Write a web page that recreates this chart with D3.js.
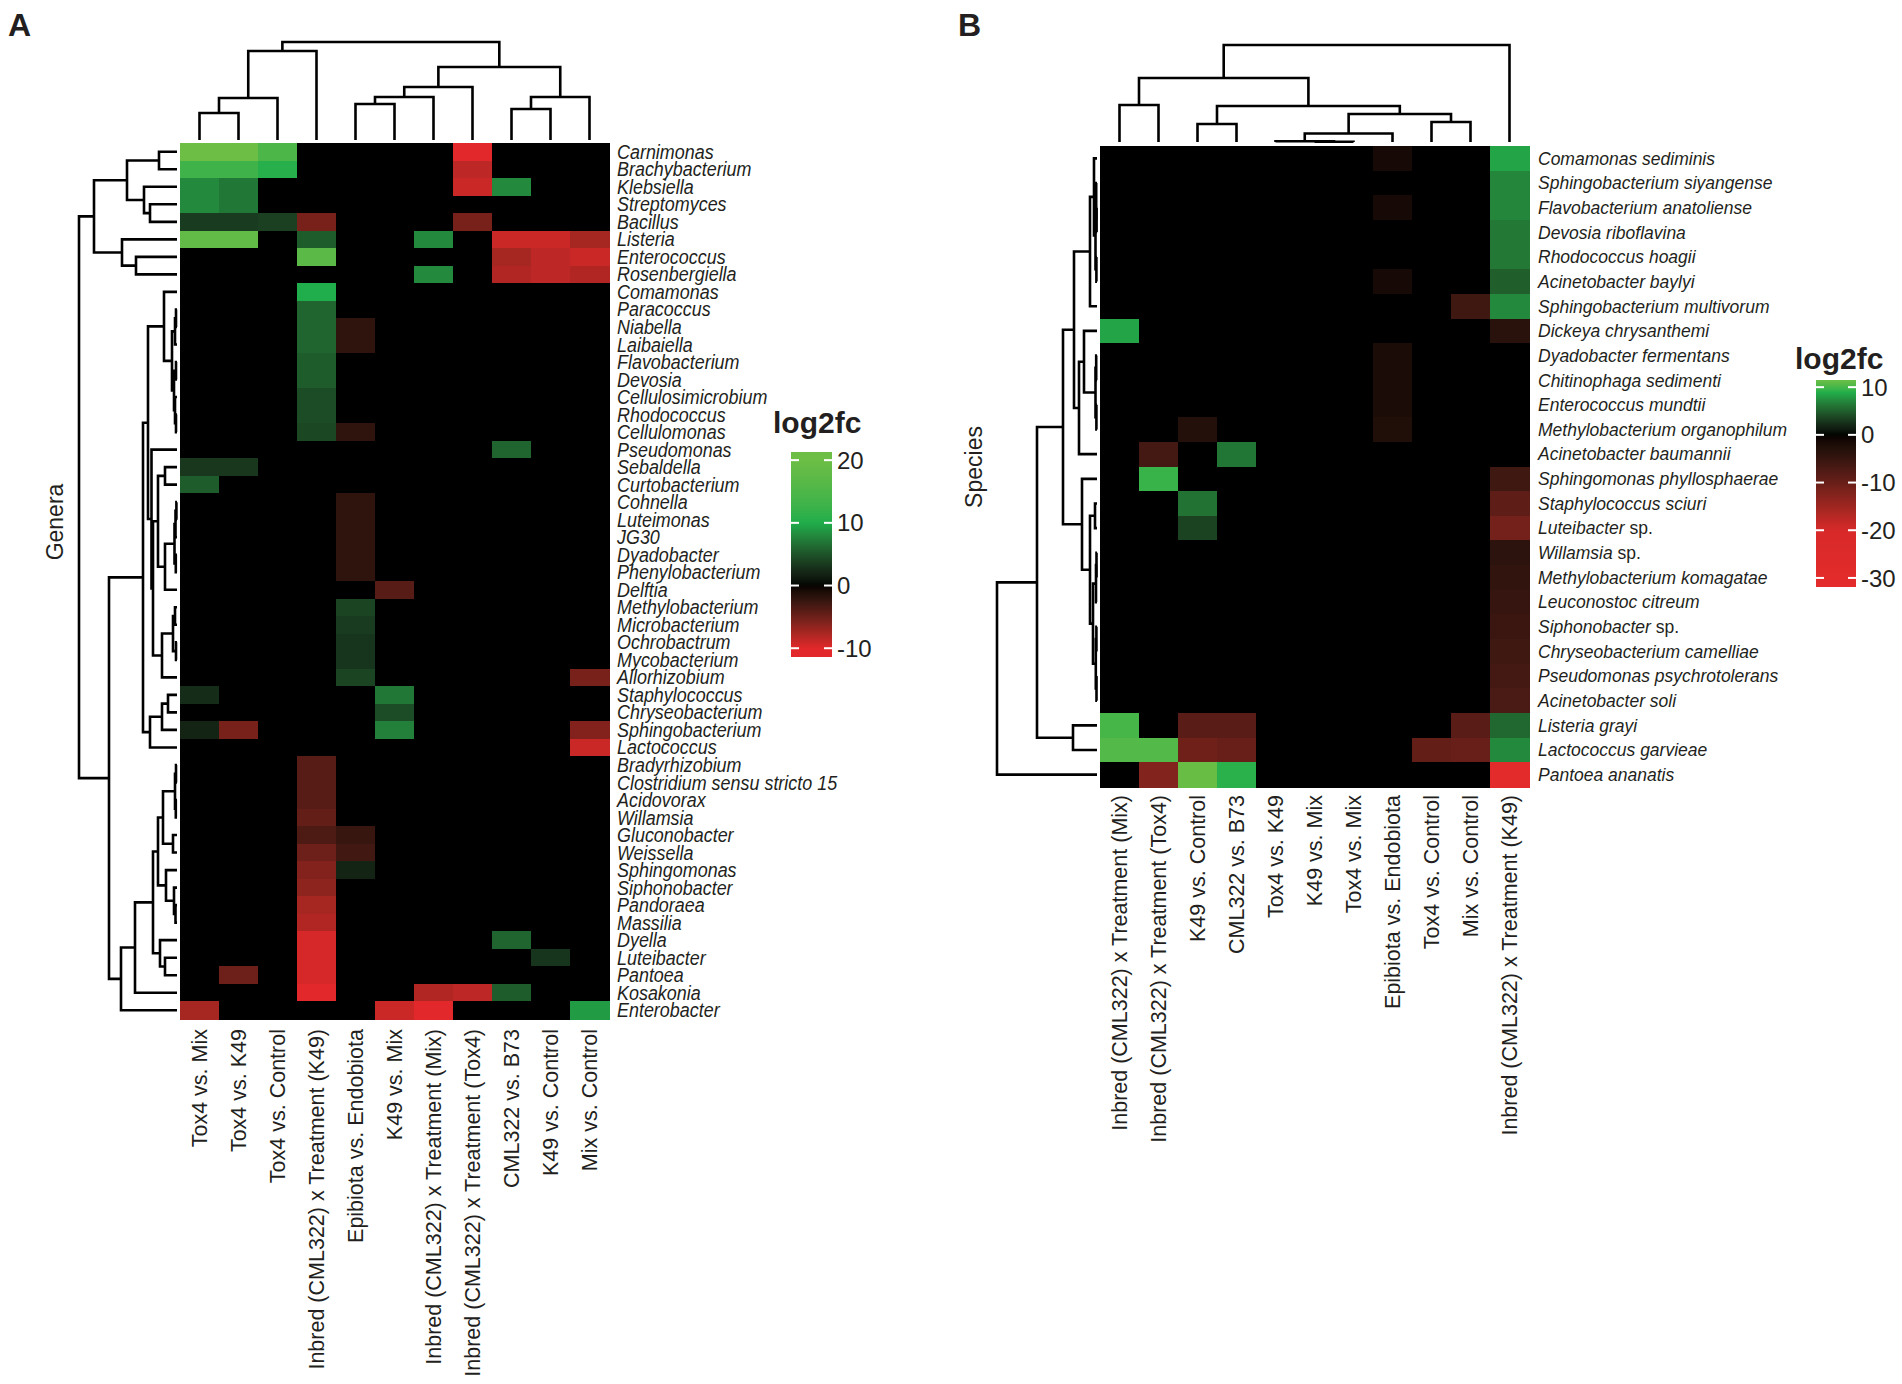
<!DOCTYPE html>
<html><head><meta charset="utf-8">
<script src="https://cdn.jsdelivr.net/npm/d3@7"></script>
<style>
body{margin:0;background:#fff}
svg{display:block}
text{font-family:"Liberation Sans",Arial,Helvetica,sans-serif;fill:#231f20}
</style>
</head><body>
<svg id="chart" width="1902" height="1384"></svg>
<script>
// ---------------- DATA ----------------
const comparisonsA = ["Tox4 vs. Mix","Tox4 vs. K49","Tox4 vs. Control","Inbred (CML322) x Treatment (K49)","Epibiota vs. Endobiota","K49 vs. Mix","Inbred (CML322) x Treatment (Mix)","Inbred (CML322) x Treatment (Tox4)","CML322 vs. B73","K49 vs. Control","Mix vs. Control"];
const genera = ["Carnimonas","Brachybacterium","Klebsiella","Streptomyces","Bacillus","Listeria","Enterococcus","Rosenbergiella","Comamonas","Paracoccus","Niabella","Laibaiella","Flavobacterium","Devosia","Cellulosimicrobium","Rhodococcus","Cellulomonas","Pseudomonas","Sebaldella","Curtobacterium","Cohnella","Luteimonas","JG30","Dyadobacter","Phenylobacterium","Delftia","Methylobacterium","Microbacterium","Ochrobactrum","Mycobacterium","Allorhizobium","Staphylococcus","Chryseobacterium","Sphingobacterium","Lactococcus","Bradyrhizobium","Clostridium sensu stricto 15","Acidovorax","Willamsia","Gluconobacter","Weissella","Sphingomonas","Siphonobacter","Pandoraea","Massilia","Dyella","Luteibacter","Pantoea","Kosakonia","Enterobacter"];
const log2fcGenera = [
[20,20,15,0,0,0,0,-10,0,0,0],
[13,13,10.5,0,0,0,0,-8.5,0,0,0],
[8,7,0,0,0,0,0,-9,8,0,0],
[8,7,0,0,0,0,0,0,0,0,0],
[3.5,3.5,3.8,-5.5,0,0,0,-5.5,0,0,0],
[18,18,0,5.5,0,0,8,0,-9,-9,-7.5],
[0,0,0,17,0,0,0,0,-7.5,-8.5,-9],
[0,0,0,0,0,0,8,0,-8,-8.5,-8],
[0,0,0,10,0,0,0,0,0,0,0],
[0,0,0,6,0,0,0,0,0,0,0],
[0,0,0,6,-2,0,0,0,0,0,0],
[0,0,0,6,-2,0,0,0,0,0,0],
[0,0,0,5.5,0,0,0,0,0,0,0],
[0,0,0,5.5,0,0,0,0,0,0,0],
[0,0,0,4.5,0,0,0,0,0,0,0],
[0,0,0,4.5,0,0,0,0,0,0,0],
[0,0,0,4.2,-2,0,0,0,0,0,0],
[0,0,0,0,0,0,0,0,6,0,0],
[3.2,3.2,0,0,0,0,0,0,0,0,0],
[5.5,0,0,0,0,0,0,0,0,0,0],
[0,0,0,0,-2,0,0,0,0,0,0],
[0,0,0,0,-2,0,0,0,0,0,0],
[0,0,0,0,-2,0,0,0,0,0,0],
[0,0,0,0,-2,0,0,0,0,0,0],
[0,0,0,0,-2,0,0,0,0,0,0],
[0,0,0,0,0,-4,0,0,0,0,0],
[0,0,0,0,4,0,0,0,0,0,0],
[0,0,0,0,3.5,0,0,0,0,0,0],
[0,0,0,0,3,0,0,0,0,0,0],
[0,0,0,0,3,0,0,0,0,0,0],
[0,0,0,0,4,0,0,0,0,0,-5.5],
[2.5,0,0,0,0,7,0,0,0,0,0],
[0,0,0,0,0,4.5,0,0,0,0,0],
[2,-5.5,0,0,0,7.5,0,0,0,0,-6],
[0,0,0,0,0,0,0,0,0,0,-9],
[0,0,0,-4,0,0,0,0,0,0,0],
[0,0,0,-4,0,0,0,0,0,0,0],
[0,0,0,-4,0,0,0,0,0,0,0],
[0,0,0,-4.5,0,0,0,0,0,0,0],
[0,0,0,-3.5,-2.5,0,0,0,0,0,0],
[0,0,0,-5,-3,0,0,0,0,0,0],
[0,0,0,-6,2,0,0,0,0,0,0],
[0,0,0,-6.5,0,0,0,0,0,0,0],
[0,0,0,-7.5,0,0,0,0,0,0,0],
[0,0,0,-8,0,0,0,0,0,0,0],
[0,0,0,-9.5,0,0,0,0,6,0,0],
[0,0,0,-9.5,0,0,0,0,0,3,0],
[0,-5,0,-9.5,0,0,0,0,0,0,0],
[0,0,0,-10.5,0,0,-8,-8.5,5.5,0,0],
[-7.5,0,0,0,0,-9,-10.5,0,0,0,9]
];
// dendrograms: [height, left, right]; leaves are indices
const treeComparisonsA = [98,[89,[42,[27,0,1],2],3],[73,[53,[43,[36,4,5],6],7],[43,[31,8,9],10]]];
const treeGenera = [98,
  [83,[50,[18,0,1],[33,2,[27,3,4]]],[55,5,[41,6,7]]],
  [68,
    [34,
      [29,
        [13,8,[5,[2,[1,9,10],11],[3,[1,12,13],[2,14,[1,15,16]]]]],
        [25.5,17,[24,[19,[12,18,19],[12,[2.5,[1.5,[0.6,20,21],22],[1.2,23,24]],25]],[15,[4,[2,26,27],[1,28,29]],30]]]],
      [27,[15,[9,31,32],33],34]],
    [56,[42,[24,[19,[14,[2,[1,35,36],[1.2,37,38]],[4,39,40]],[11,41,[3,42,[1.5,43,44]]]],[17,45,[12,46,47]]],48],49]]];

const comparisonsB = ["Inbred (CML322) x Treatment (Mix)","Inbred (CML322) x Treatment (Tox4)","K49 vs. Control","CML322 vs. B73","Tox4 vs. K49","K49 vs. Mix","Tox4 vs. Mix","Epibiota vs. Endobiota","Tox4 vs. Control","Mix vs. Control","Inbred (CML322) x Treatment (K49)"];
const species = ["Comamonas sediminis","Sphingobacterium siyangense","Flavobacterium anatoliense","Devosia riboflavina","Rhodococcus hoagii","Acinetobacter baylyi","Sphingobacterium multivorum","Dickeya chrysanthemi","Dyadobacter fermentans","Chitinophaga sedimenti","Enterococcus mundtii","Methylobacterium organophilum","Acinetobacter baumannii","Sphingomonas phyllosphaerae","Staphylococcus sciuri","Luteibacter sp.","Willamsia sp.","Methylobacterium komagatae","Leuconostoc citreum","Siphonobacter sp.","Chryseobacterium camelliae","Pseudomonas psychrotolerans","Acinetobacter soli","Listeria grayi","Lactococcus garvieae","Pantoea ananatis"];
const log2fcSpecies = [
[0,0,0,0,0,0,0,-1.5,0,0,8.5],
[0,0,0,0,0,0,0,0,0,0,7],
[0,0,0,0,0,0,0,-1.5,0,0,7],
[0,0,0,0,0,0,0,0,0,0,6.3],
[0,0,0,0,0,0,0,0,0,0,6.3],
[0,0,0,0,0,0,0,-1.5,0,0,5],
[0,0,0,0,0,0,0,0,0,-6,7.2],
[8.5,0,0,0,0,0,0,0,0,0,-3.5],
[0,0,0,0,0,0,0,-2,0,0,0],
[0,0,0,0,0,0,0,-2,0,0,0],
[0,0,0,0,0,0,0,-2,0,0,0],
[0,0,-3,0,0,0,0,-2.5,0,0,0],
[0,-6.5,0,6.2,0,0,0,0,0,0,0],
[0,9.5,0,0,0,0,0,0,0,0,-6],
[0,0,6,0,0,0,0,0,0,0,-9],
[0,0,3.5,0,0,0,0,0,0,0,-11],
[0,0,0,0,0,0,0,0,0,0,-4],
[0,0,0,0,0,0,0,0,0,0,-4.5],
[0,0,0,0,0,0,0,0,0,0,-5],
[0,0,0,0,0,0,0,0,0,0,-5.5],
[0,0,0,0,0,0,0,0,0,0,-6],
[0,0,0,0,0,0,0,0,0,0,-6.5],
[0,0,0,0,0,0,0,0,0,0,-7],
[10,0,-8.5,-8.5,0,0,0,0,0,-8.5,5.5],
[10.5,10.5,-10.5,-10,0,0,0,0,-9.5,-10,7.2],
[0,-12.5,11.4,9.2,0,0,0,0,0,0,-30]
];
const treeComparisonsB = [97,[64,[37,0,1],[36,[18,2,3],[28,[8.5,[0.8,4,[0.3,5,6]],7],[20,8,9]]]],10];
const treeSpecies = [100,
  [60,
    [34,
      [23,[7,[3,0,[1.5,[0.8,1,[0.4,2,3]],[0.6,4,5]]],6],[18,[13,7,[1.5,[0.8,8,9],[0.6,10,11]]],12]],
      [15,13,[7,[2,14,15],[4,[1,[0.5,16,17],18],[1.2,[0.6,19,20],[0.5,21,22]]]]]],
    [24,23,24]],
  25];

const legendTicksA = [-10,0,10,20];
const legendTicksB = [-30,-20,-10,0,10];

// ---------------- DRAWING ----------------
const svg = d3.select("#chart");
svg.append("rect").attr("width",1902).attr("height",1384).attr("fill","#fff");

function makeColor(stops, colors){
  return d3.scaleLinear().domain(stops).range(colors).interpolate(d3.interpolateLab).clamp(true);
}
const colorA = makeColor([-10,0,10,20],["#e2282a","#000000","#1fae4b","#6cbe45"]);
const colorB = makeColor([-32,-20,0,9,11.5],["#e52b2b","#d82929","#000000","#22b04b","#6abf45"]);

function drawTree(g, tree, leafPos, hScale, orient){
  function rec(node){
    if (typeof node === "number") return {p: leafPos(node), h: 0};
    const a = rec(node[1]), b = rec(node[2]);
    const h = node[0], p = (a.p + b.p)/2;
    let d;
    if (orient === "top"){
      d = `M${a.p},${hScale(a.h)}V${hScale(h)}H${b.p}V${hScale(b.h)}`;
    } else {
      d = `M${hScale(a.h)},${a.p}H${hScale(h)}V${b.p}H${hScale(b.h)}`;
    }
    g.append("path").attr("d",d);
    return {p, h};
  }
  rec(tree);
}

function drawPanel(c){
  const g = svg.append("g");
  const x = d3.scaleBand().domain(d3.range(c.cols.length)).range([c.x0,c.x1]);
  const y = d3.scaleBand().domain(d3.range(c.rows.length)).range([c.y0,c.y1]);
  // cells
  const cells = g.append("g").attr("shape-rendering","crispEdges");
  c.values.forEach((row,i)=>row.forEach((v,j)=>{
    cells.append("rect").attr("x",x(j)).attr("y",y(i))
      .attr("width",x.bandwidth()+0.5).attr("height",y.bandwidth()+0.5)
      .attr("fill",c.color(v));
  }));
  // dendrograms
  const dg = g.append("g").attr("fill","none").attr("stroke","#000").attr("stroke-width",2.6);
  const hTop = d3.scaleLinear().domain([0,c.colTreeMax]).range(c.colTreeRange);
  drawTree(dg, c.colTree, j=>x(j)+x.bandwidth()/2, hTop, "top");
  const hLeft = d3.scaleLinear().domain([0,c.rowTreeMax]).range(c.rowTreeRange);
  drawTree(dg, c.rowTree, i=>y(i)+y.bandwidth()/2, hLeft, "left");
  // row labels
  c.rows.forEach((name,i)=>{
    const t = g.append("text")
      .attr("transform",`translate(${c.rowLabelX},${y(i)+y.bandwidth()/2}) scale(${c.rowScaleX},1)`)
      .attr("dy","0.36em").attr("font-size",c.rowFont);
    const m = name.match(/^(.*) (sp\.)$/);
    if (m){
      t.append("tspan").attr("font-style","italic").text(m[1]+" ");
      t.append("tspan").text(m[2]);
    } else t.attr("font-style","italic").text(name);
  });
  // column labels
  c.cols.forEach((name,j)=>{
    g.append("text")
      .attr("transform",`translate(${x(j)+x.bandwidth()/2},${c.colLabelY}) rotate(-90)`)
      .attr("text-anchor","end").attr("dy","0.36em").attr("font-size",c.colFont).text(name);
  });
  // axis title
  g.append("text").attr("transform",`translate(${c.titlePos[0]},${c.titlePos[1]}) rotate(-90)`)
    .attr("text-anchor","middle").attr("dy","0.36em").attr("font-size",c.titleFont).text(c.title);
  // panel letter
  g.append("text").attr("x",c.letterPos[0]).attr("y",c.letterPos[1])
    .attr("font-size",32).attr("font-weight","bold").text(c.letter);
  // legend
  const L = c.legend;
  const ly = d3.scaleLinear().domain(L.domain).range(L.range);
  const gid = "grad"+c.letter;
  const grad = svg.append("defs").append("linearGradient").attr("id",gid)
    .attr("x1",0).attr("y1",1).attr("x2",0).attr("y2",0);
  d3.range(0,1.0001,0.02).forEach(f=>{
    const v = L.domain[0] + f*(L.domain[1]-L.domain[0]);
    grad.append("stop").attr("offset",f).attr("stop-color",c.color(v));
  });
  g.append("text").attr("x",L.titleX).attr("y",L.titleY).attr("font-size",30)
    .attr("font-weight","bold").text("log2fc");
  g.append("rect").attr("x",L.x).attr("y",ly(L.domain[1])).attr("width",L.w)
    .attr("height",ly(L.domain[0])-ly(L.domain[1])).attr("fill",`url(#${gid})`);
  L.ticks.forEach(t=>{
    const yy = ly(t);
    g.append("line").attr("x1",L.x).attr("x2",L.x+8).attr("y1",yy).attr("y2",yy)
      .attr("stroke","#fff").attr("stroke-width",2);
    g.append("line").attr("x1",L.x+L.w-8).attr("x2",L.x+L.w).attr("y1",yy).attr("y2",yy)
      .attr("stroke","#fff").attr("stroke-width",2);
    g.append("text").attr("x",L.x+L.w+5).attr("y",yy).attr("dy","0.36em")
      .attr("font-size",24).text(t);
  });
}

drawPanel({
  letter:"A", letterPos:[8,36],
  cols:comparisonsA, rows:genera, values:log2fcGenera, color:colorA,
  x0:180, x1:609, y0:143, y1:1019,
  colTree:treeComparisonsA, colTreeMax:98, colTreeRange:[140,42],
  rowTree:treeGenera, rowTreeMax:98, rowTreeRange:[177,79],
  rowLabelX:617, rowFont:19.5, rowScaleX:0.92,
  colLabelY:1029, colFont:21.5,
  title:"Genera", titlePos:[55,522], titleFont:23,
  legend:{domain:[-11.4,21.3], range:[657,452], x:791, w:41, ticks:legendTicksA, titleX:773, titleY:433}
});
drawPanel({
  letter:"B", letterPos:[958,36],
  cols:comparisonsB, rows:species, values:log2fcSpecies, color:colorB,
  x0:1100, x1:1529, y0:146, y1:787,
  colTree:treeComparisonsB, colTreeMax:97, colTreeRange:[142,45],
  rowTree:treeSpecies, rowTreeMax:100, rowTreeRange:[1097,997],
  rowLabelX:1538, rowFont:17.5, rowScaleX:1,
  colLabelY:795, colFont:21.5,
  title:"Species", titlePos:[974,467], titleFont:23,
  legend:{domain:[-31.9,11.5], range:[587,380], x:1816, w:40, ticks:legendTicksB, titleX:1795, titleY:369}
});
</script>
</body></html>
